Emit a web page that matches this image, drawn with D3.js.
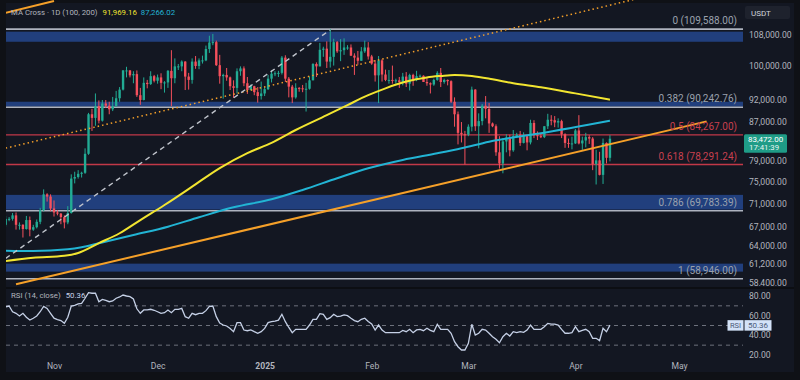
<!DOCTYPE html>
<html><head><meta charset="utf-8">
<script src="https://cdn.jsdelivr.net/npm/d3@7"></script>
<style>html,body{margin:0;padding:0;background:#0f1116;}svg{display:block;font-family:Roboto,"Noto Sans",sans-serif;}</style>
</head><body><svg id="c" width="800" height="380"></svg>
<script>
// ---------- DATA (prices in thousands USDT, daily from 2024-10-18 to 2025-04-11) ----------
const firstDay = "2024-10-18", lastDay = "2025-04-11";
const opens = [
67.4,68.4,68.4,69.0,67.4,67.4,66.7,68.2,66.6,67.0,67.9,69.9,72.7,72.3,
70.2,69.5,69.3,68.7,67.8,69.4,75.6,75.9,76.5,76.7,80.4,88.7,87.9,90.5,87.3,91.1,90.6,89.8,90.5,92.3,94.3,98.9,98.9,97.7,98.0,93.0,91.9,95.9,95.6,97.5,
96.4,97.2,95.9,96.0,98.8,97.0,99.9,99.9,101.1,97.4,96.6,101.1,100.0,101.4,101.4,104.3,106.0,106.1,100.2,97.5,97.8,97.2,95.1,94.7,98.7,99.4,95.8,94.2,95.1,93.7,92.8,
93.4,94.4,96.9,98.1,98.2,98.3,102.1,96.9,95.0,92.5,94.7,94.6,94.5,94.5,96.5,100.5,99.9,104.1,104.4,101.1,102.3,106.1,103.7,104.0,104.7,104.7,102.6,102.1,101.3,103.7,104.7,
102.4,100.6,97.7,101.4,97.9,96.6,96.6,96.5,96.5,96.1,97.4,95.7,97.8,96.6,97.5,97.6,96.1,95.8,95.5,96.6,98.3,96.1,96.6,96.3,91.5,88.7,84.7,84.4,
84.3,86.0,94.3,86.1,87.2,90.6,89.9,86.7,86.1,80.7,78.5,82.9,83.7,81.1,84.0,84.3,82.6,84.0,82.7,86.8,84.2,84.0,83.8,86.1,87.5,87.4,86.9,87.2,84.4,82.6,82.4,
82.5,85.2,82.5,83.1,83.8,83.5,78.4,79.1,76.3,82.6,79.6];
const highs = [
68.9,68.7,69.4,69.5,67.8,67.5,68.9,68.8,67.4,68.3,70.3,73.6,72.9,72.7,
71.6,69.9,69.4,69.0,70.6,76.4,76.9,77.2,76.9,81.5,89.0,89.9,93.4,91.8,91.9,91.9,91.5,92.6,94.0,94.9,99.0,99.8,99.0,98.7,98.9,94.7,97.2,96.6,98.7,97.8,
97.9,98.2,96.3,99.0,104.0,101.9,100.5,101.4,101.2,98.3,101.9,102.5,101.9,102.6,105.2,107.8,108.3,106.5,102.8,98.1,99.5,97.4,96.5,99.4,99.9,99.9,97.3,95.5,95.2,94.9,96.2,
94.9,97.8,98.9,98.7,98.8,102.5,102.7,97.3,95.4,95.8,94.9,95.4,95.9,97.4,100.7,100.9,105.9,104.9,106.3,109.6,107.0,106.4,106.9,107.1,105.3,105.5,103.2,103.8,104.8,106.5,106.1,
102.8,101.5,102.5,101.7,99.1,99.0,100.1,96.9,97.3,98.3,98.5,98.1,98.1,98.8,97.9,97.7,97.0,96.0,96.9,98.7,99.5,96.9,96.7,96.5,92.5,89.3,87.0,85.1,
86.5,95.0,94.4,88.9,91.0,92.8,91.2,86.9,86.5,84.0,83.6,84.4,84.3,85.3,84.7,85.1,84.8,84.0,87.5,87.4,85.0,84.5,86.1,88.8,88.5,88.3,87.8,87.5,84.6,83.5,83.9,
85.5,88.5,83.9,84.7,84.2,83.8,81.2,80.8,83.5,82.7,84.2];
const lows = [
67.1,68.0,68.1,66.6,66.6,65.3,66.6,65.5,66.4,66.8,67.5,69.7,71.4,69.7,
68.8,69.0,67.5,66.8,67.5,69.3,74.7,75.6,75.8,76.5,80.2,85.1,86.2,86.7,87.1,90.1,88.7,89.4,90.4,91.5,94.1,97.2,97.2,95.8,92.6,90.8,91.8,94.6,95.4,96.0,
95.7,94.4,93.6,94.7,90.5,95.8,99.0,98.7,94.2,94.3,95.7,99.3,99.2,100.6,101.2,103.3,105.3,100.0,95.7,92.2,96.4,94.2,92.4,93.4,97.6,95.1,93.3,94.1,93.0,91.3,92.0,
92.8,94.2,96.0,97.5,97.3,97.9,96.1,92.5,91.2,92.2,93.8,93.7,89.3,94.3,96.5,97.3,99.9,102.3,99.5,99.6,100.1,103.3,101.2,102.8,104.1,102.5,97.8,100.3,101.3,103.3,101.6,
100.3,96.2,91.2,96.2,96.3,95.7,95.7,95.7,94.7,95.3,94.9,94.1,95.2,96.3,97.3,96.1,95.2,93.4,95.2,96.4,94.9,95.7,95.3,91.2,86.0,82.3,82.7,78.3,
84.0,85.0,85.1,81.5,86.3,87.8,84.7,85.9,80.0,77.5,76.6,80.7,79.9,80.8,83.6,82.0,82.5,81.1,82.3,83.6,83.2,83.6,83.6,85.5,86.3,85.9,85.8,83.6,81.6,81.6,81.3,
82.4,82.3,81.2,81.7,82.4,77.2,74.5,76.2,74.6,78.5,78.9];
const closes = [
68.4,68.4,69.0,67.4,67.4,66.7,68.2,66.6,67.0,67.9,69.9,72.7,72.3,70.2,
69.5,69.3,68.7,67.8,69.4,75.6,75.9,76.5,76.7,80.4,88.7,87.9,90.5,87.3,91.1,90.6,89.8,90.5,92.3,94.3,98.9,98.9,97.7,98.0,93.0,91.9,95.9,95.6,97.5,96.4,
97.2,95.9,96.0,98.8,97.0,99.9,99.9,101.1,97.4,96.6,101.1,100.0,101.4,101.4,104.3,106.0,106.1,100.2,97.5,97.8,97.2,95.1,94.7,98.7,99.4,95.8,94.2,95.1,93.7,92.8,93.4,
94.4,96.9,98.1,98.2,98.3,102.1,96.9,95.0,92.5,94.7,94.6,94.5,94.5,96.5,100.5,99.9,104.1,104.4,101.1,102.3,106.1,103.7,104.0,104.7,104.7,102.6,102.1,101.3,103.7,104.7,102.4,
100.6,97.7,101.4,97.9,96.6,96.6,96.5,96.5,96.1,97.4,95.7,97.8,96.6,97.5,97.6,96.1,95.8,95.5,96.6,98.3,96.1,96.6,96.3,91.5,88.7,84.7,84.4,84.3,
86.0,94.3,86.1,87.2,90.6,89.9,86.7,86.1,80.7,78.5,82.9,83.7,81.1,84.0,84.3,82.6,84.0,82.7,86.8,84.2,84.0,83.8,86.1,87.5,87.4,86.9,87.2,84.4,82.6,82.4,82.5,
85.2,82.5,83.1,83.8,83.5,78.4,79.1,76.3,82.6,79.6,83.472];
const rsiValues = [
69,69.8,64,62.4,59.7,62.4,58.4,55.6,57.4,59.7,64,69.5,67.4,62.4,
57.4,56,55,52.2,58.4,69.8,70.5,71.9,72.5,77.7,83.4,82.8,82.8,74.2,76.6,75.5,74.2,75,77.7,79,81,80,79.3,77,67,62.4,65.8,65.8,66.5,65.5,
64,62.4,63,65.8,63,66.5,66.5,67.4,59,57.4,62.4,61,62.4,62.4,65.1,69.5,69.8,59,52.5,50.5,49.5,47,43.7,52.9,52.9,45.4,44.7,45.5,43.7,42.1,43.7,
47,53,53.9,54.5,55.5,61.4,53.9,48,42.7,46.1,46.1,46.1,46.1,50.5,56.3,56.3,62,61.4,56.3,58,61.4,59,59.5,60.7,60,57.4,55,53.9,56.3,57.4,54,
51.5,45.4,50.5,45.4,42.7,42.7,42.7,42.7,42.7,45,43.7,46.1,42.7,45.5,46.1,44.7,47.2,45,43.7,51.2,46.1,46.1,46.1,42.1,33.5,28.4,25.1,25.1,
31.9,51.2,40.3,42.1,46.1,45.4,42.1,38.6,36,32.5,38.6,42.1,39.3,43.7,42.7,43.7,43,45.4,50.5,46.1,46.1,46.1,48.8,52.2,51.5,51.5,50.5,46.1,42.1,42.1,42.7,
48.8,43.7,45,46.1,43.7,37,37,34.6,47.2,43.7,50.36];
const ma100Dates = ["2024-10-18","2024-10-26","2024-11-04","2024-11-08","2024-11-14","2024-11-20","2024-11-26","2024-12-03","2024-12-11","2024-12-19","2024-12-27","2025-01-03","2025-01-10","2025-01-19","2025-01-25","2025-01-31","2025-02-05","2025-02-11","2025-02-17","2025-02-21","2025-02-25","2025-03-02","2025-03-08","2025-03-14","2025-03-22","2025-04-01","2025-04-11"];
const ma100Values = [61600,62100,62400,62850,64400,66000,68200,70800,74100,77600,80550,82600,85300,88500,90750,93000,94600,96200,97200,97550,97800,97550,96750,95800,94850,93420,91969.16];
const ma200Dates = ["2024-10-18","2024-10-26","2024-11-05","2024-11-09","2024-11-14","2024-11-24","2024-12-04","2024-12-13","2024-12-23","2025-01-03","2025-01-12","2025-01-22","2025-01-31","2025-02-10","2025-02-20","2025-02-27","2025-03-07","2025-03-22","2025-04-11"];
const ma200Values = [63200,63150,63430,63750,64380,65720,67080,68680,70390,71810,73490,75660,77560,79180,80500,81510,82860,84600,87266.02];
const fibRatios = ["0","0.382","0.5","0.618","0.786","1"];
const fibPrices = [109588,90242.76,84267,78291.24,69783.39,58946];
const zoneLows  = [106200,90400,70000,60000];
const zoneHighs = [108900,91500,72600,61200];
const priceTicks = [108000,100000,92000,87000,79000,75000,71000,67000,64000,61200,58400];
const rsiTicks = [80,60,40,20];
const rsiLevels = [70,50,30];
const monthTicks = ["2024-11-01","2024-12-01","2025-01-01","2025-02-01","2025-03-01","2025-04-01","2025-05-01"];
const monthLabels = ["Nov","Dec","2025","Feb","Mar","Apr","May"];
const channelLower = [["2024-10-21",58150],["2025-05-09",87140]];
const channelUpper = [["2024-10-18",81530],["2025-04-20",118450]];
const channelTop   = [["2024-10-18",114100],["2024-11-01",117500]];
const dashedTrend  = [["2024-10-18",62000],["2025-01-20",109400]];
const lastPrice = 83472, countdown = "17:41:39";
const ma100Last = "91,969.16", ma200Last = "87,266.02", rsiLast = "50.36";

// ---------- STYLE ----------
const C = {bg:"#131722", up:"#22ab94", down:"#f5505c", yellow:"#f2e530", cyan:"#22b4d4", orange:"#f5a029",
  grey:"#aeb3bf", red:"#c23848", band:"#213f7d", text:"#b2b5be", rsi:"#c5d0e6"};

const svg = d3.select("#c");
const parse = d3.utcParse("%Y-%m-%d");
const days = d3.utcDay.range(parse(firstDay), d3.utcDay.offset(parse(lastDay),1));
const candles = days.map((d,i)=>({date:d,o:opens[i]*1000,h:highs[i]*1000,l:lows[i]*1000,c:closes[i]*1000}));

const x = d3.scaleUtc().domain([parse("2024-11-01"),parse("2025-05-01")]).range([54,679]);
const y = d3.scaleLog().domain([58400,108000]).range([282.5,35]);
const yR = d3.scaleLinear().domain([20,80]).range([355,296]);
const PL = 6, PR = 744, MT = 0, MB = 287, RT = 289, RB = 358;

svg.append("rect").attr("x",6).attr("y",3).attr("width",788).attr("height",369).attr("fill",C.bg);
const defs = svg.append("defs");
defs.append("clipPath").attr("id","cm").append("rect").attr("x",PL).attr("y",MT).attr("width",PR-PL).attr("height",MB-MT);
defs.append("clipPath").attr("id","cr").append("rect").attr("x",PL).attr("y",RT).attr("width",PR-PL).attr("height",RB-RT);
defs.append("clipPath").attr("id","ca").append("rect").attr("x",PR).attr("y",20).attr("width",56).attr("height",MB-21);

const gm = svg.append("g").attr("clip-path","url(#cm)");
gm.selectAll("rect.zone").data(zoneLows).join("rect").attr("class","zone")
  .attr("x",PL).attr("width",PR-PL-1)
  .attr("y",(d,i)=>y(zoneHighs[i])).attr("height",(d,i)=>y(d)-y(zoneHighs[i]))
  .attr("fill",C.band);
const isRed = r => r==="0.5"||r==="0.618";
gm.selectAll("line.fib").data(fibPrices).join("line")
  .attr("x1",PL).attr("x2",PR-1).attr("y1",d=>y(d)).attr("y2",d=>y(d))
  .attr("stroke",(d,i)=>isRed(fibRatios[i])?C.red:C.grey).attr("stroke-width",(d,i)=>isRed(fibRatios[i])?1.3:1.6);

const bw = 2.4;
gm.selectAll("line.wick").data(candles).join("line")
  .attr("x1",d=>x(d.date)).attr("x2",d=>x(d.date)).attr("y1",d=>y(d.h)).attr("y2",d=>y(d.l))
  .attr("stroke",d=>d.c>=d.o?C.up:C.down).attr("stroke-width",1);
gm.selectAll("rect.body").data(candles).join("rect")
  .attr("x",d=>x(d.date)-bw/2).attr("width",bw)
  .attr("y",d=>y(Math.max(d.o,d.c))).attr("height",d=>Math.max(1,Math.abs(y(d.o)-y(d.c))))
  .attr("fill",d=>d.c>=d.o?C.up:C.down);

const maLine = d3.line().x(d=>x(d[0])).y(d=>y(d[1])).curve(d3.curveMonotoneX);
gm.append("path").attr("d",maLine(ma200Dates.map((d,i)=>[parse(d),ma200Values[i]])))
  .attr("fill","none").attr("stroke",C.cyan).attr("stroke-width",2);
gm.append("path").attr("d",maLine(ma100Dates.map((d,i)=>[parse(d),ma100Values[i]])))
  .attr("fill","none").attr("stroke",C.yellow).attr("stroke-width",2);

const tl = d3.line().x(d=>x(parse(d[0]))).y(d=>y(d[1]));
gm.append("path").attr("d",tl(channelLower)).attr("stroke",C.orange).attr("stroke-width",2).attr("fill","none");
gm.append("path").attr("d",tl(channelUpper)).attr("stroke",C.orange).attr("stroke-width",1.5).attr("stroke-dasharray","1.5,3").attr("fill","none");
gm.append("path").attr("d",tl(channelTop)).attr("stroke",C.orange).attr("stroke-width",2).attr("fill","none");
gm.append("path").attr("d",tl(dashedTrend)).attr("stroke","#c0c4cc").attr("stroke-width",1.4).attr("stroke-dasharray","5,4").attr("fill","none");

const fmt2 = d3.format(",.2f");
svg.selectAll("text.fibl").data(fibPrices).join("text")
  .attr("x",737).attr("y",d=>y(d)-5).attr("text-anchor","end")
  .attr("font-size",10).attr("fill",(d,i)=>isRed(fibRatios[i])?"#c8404f":"#9aa1ad")
  .text((d,i)=>`${fibRatios[i]} (${fmt2(d)})`);

const hdr = svg.append("text").attr("x",11).attr("y",15).attr("font-size",7.8);
hdr.append("tspan").attr("fill",C.text).text("MA Cross · 1D (100, 200)");
hdr.append("tspan").attr("fill",C.yellow).attr("dx",5).text(ma100Last);
hdr.append("tspan").attr("fill",C.cyan).attr("dx",4).text(ma200Last);

const ga = svg.append("g").attr("clip-path","url(#ca)");
ga.selectAll("text").data(priceTicks).join("text")
  .attr("x",749).attr("y",d=>y(d)+3).attr("font-size",8.6).attr("fill",C.text).text(d=>fmt2(d));
svg.append("rect").attr("x",745).attr("y",6).attr("width",45).attr("height",13).attr("rx",2).attr("fill","#1e222d");
svg.append("text").attr("x",751).attr("y",15.5).attr("font-size",8).attr("fill","#d1d4dc").text("USDT");
const py = y(lastPrice);
svg.append("rect").attr("x",744).attr("y",py-4.5).attr("width",43).attr("height",18.5).attr("rx",1.5).attr("fill","#1f9c87");
svg.append("text").attr("x",748).attr("y",py+3.3).attr("font-size",8).attr("fill","#ffffff").text(fmt2(lastPrice));
svg.append("text").attr("x",749).attr("y",py+11).attr("font-size",7.8).attr("fill","#e8f5f2").text(countdown);

svg.append("line").attr("x1",6).attr("x2",794).attr("y1",288).attr("y2",288).attr("stroke","#0c0e13").attr("stroke-width",2);

const gr = svg.append("g").attr("clip-path","url(#cr)");
gr.selectAll("line.lvl").data(rsiLevels).join("line")
  .attr("x1",PL).attr("x2",PR-1).attr("y1",d=>yR(d)).attr("y2",d=>yR(d))
  .attr("stroke","#6d717c").attr("stroke-width",1).attr("stroke-dasharray","4,4");
gr.append("path").attr("d",d3.line().x((d,i)=>x(days[i])).y(d=>yR(d))(rsiValues))
  .attr("fill","none").attr("stroke",C.rsi).attr("stroke-width",1.3);
svg.selectAll("text.rt").data(rsiTicks).join("text")
  .attr("x",749).attr("y",d=>yR(d)+3).attr("font-size",8.6).attr("fill",C.text).text(d=>fmt2(d));
const ry = yR(+rsiLast);
svg.append("rect").attr("x",727.5).attr("y",ry-5).attr("width",16).attr("height",10.5).attr("fill","#d3e2f8");
svg.append("rect").attr("x",744.5).attr("y",ry-5).attr("width",27).attr("height",10.5).attr("fill","#d3e2f8");
svg.append("text").attr("x",735.5).attr("y",ry+3).attr("text-anchor","middle").attr("font-size",7.5).attr("fill","#4a5b78").text("RSI");
svg.append("text").attr("x",758).attr("y",ry+3).attr("text-anchor","middle").attr("font-size",8).attr("fill","#4a5b78").text(rsiLast);
const rl = svg.append("text").attr("x",11).attr("y",298).attr("font-size",7.8);
rl.append("tspan").attr("fill",C.text).text("RSI (14, close)");
rl.append("tspan").attr("fill","#c8d4ec").attr("dx",5).text(rsiLast);

const xa = d3.axisBottom(x).tickValues(monthTicks.map(parse)).tickSize(0)
  .tickFormat((d,i)=>monthLabels[i]);
const gx = svg.append("g").attr("transform","translate(0,360)").call(xa);
gx.select(".domain").remove();
gx.selectAll("text").attr("font-size",8.6).attr("fill",C.text).attr("font-family","Roboto,sans-serif")
  .attr("font-weight",(d,i)=>monthLabels[i]==="2025"?"bold":"normal");
</script></body></html>
